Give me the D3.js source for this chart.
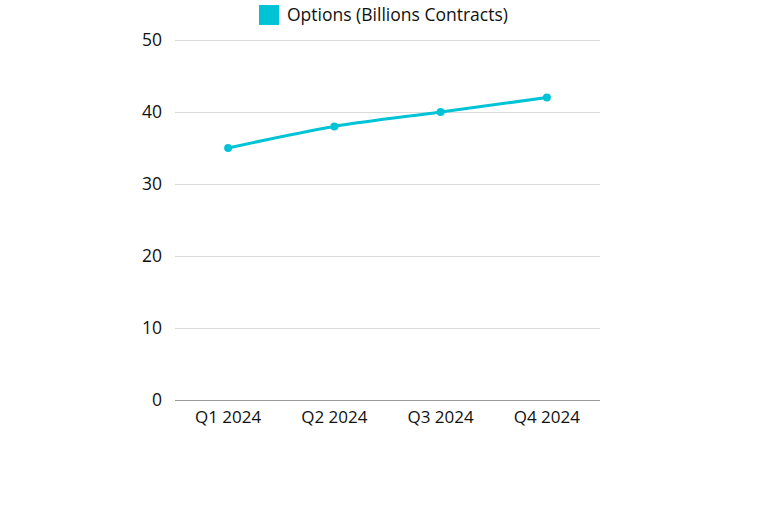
<!DOCTYPE html>
<html>
<head>
<meta charset="utf-8">
<script src="https://cdn.jsdelivr.net/npm/d3@7"></script>
<style>
  body { margin: 0; background: #fff; }
  text { font-family: "Open Sans", sans-serif; }
</style>
</head>
<body>
<div id="chart"></div>
<script>
const quarters = ['Q1 2024', 'Q2 2024', 'Q3 2024', 'Q4 2024'];
const optionsVolume = [35, 38, 40, 42];
const yTicks = [0, 10, 20, 30, 40, 50];
const seriesName = 'Options (Billions Contracts)';

const width = 768, height = 512;
const margin = { top: 40, right: 168, bottom: 112, left: 175 };
const color = '#00c4d6';

const svg = d3.select('#chart')
  .append('svg')
  .attr('width', width)
  .attr('height', height);

const x = d3.scaleBand()
  .domain(quarters)
  .range([margin.left, width - margin.right]);

const y = d3.scaleLinear()
  .domain([0, 50])
  .range([height - margin.bottom, margin.top]);

// gridlines
svg.append('g')
  .selectAll('line')
  .data(yTicks)
  .join('line')
  .attr('x1', margin.left)
  .attr('x2', width - margin.right)
  .attr('y1', d => y(d) + 0.5)
  .attr('y2', d => y(d) + 0.5)
  .attr('stroke', d => d === 0 ? '#999' : '#d9d9d9')
  .attr('stroke-width', 1);

// y labels
svg.append('g')
  .selectAll('text')
  .data(yTicks)
  .join('text')
  .attr('x', margin.left - 13)
  .attr('y', d => y(d))
  .attr('dy', '0.35em')
  .attr('text-anchor', 'end')
  .attr('font-size', 17.5)
  .attr('fill', '#111')
  .text(d => d);

// x labels
svg.append('g')
  .selectAll('text')
  .data(quarters)
  .join('text')
  .attr('x', d => x(d) + x.bandwidth() / 2)
  .attr('y', y(0) + 23)
  .attr('text-anchor', 'middle')
  .attr('font-size', 17)
  .attr('fill', '#111')
  .text(d => d);

const points = quarters.map((q, i) => [x(q) + x.bandwidth() / 2, y(optionsVolume[i])]);

svg.append('path')
  .datum(points)
  .attr('fill', 'none')
  .attr('stroke', color)
  .attr('stroke-width', 3)
  .attr('d', d3.line().curve(d3.curveMonotoneX));

svg.append('g')
  .selectAll('circle')
  .data(points)
  .join('circle')
  .attr('cx', d => d[0])
  .attr('cy', d => d[1])
  .attr('r', 4)
  .attr('fill', color);

// legend
const legend = svg.append('g');
legend.append('rect')
  .attr('x', 259).attr('y', 5)
  .attr('width', 20).attr('height', 20)
  .attr('fill', color);
legend.append('text')
  .attr('x', 287).attr('y', 15)
  .attr('dy', '0.35em')
  .attr('font-size', 17.5)
  .attr('fill', '#111')
  .text(seriesName);
</script>
</body>
</html>
